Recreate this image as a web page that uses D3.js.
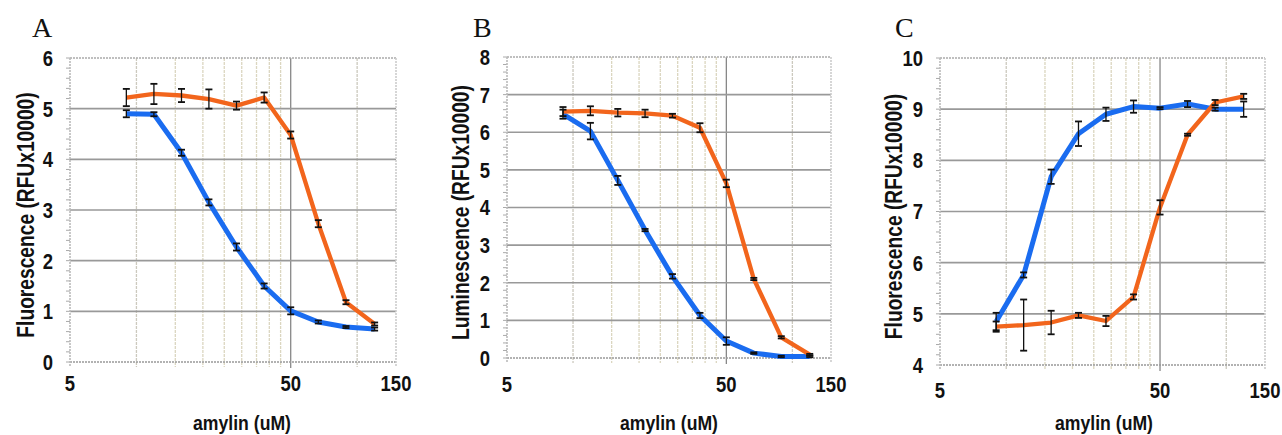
<!DOCTYPE html>
<html>
<head>
<meta charset="utf-8">
<script src="https://cdn.jsdelivr.net/npm/d3@7"></script>
<style>
  body { margin: 0; background: #fff; }
  .tick-label, .axis-title { font-family: "Liberation Sans", Arial, sans-serif; font-weight: bold; fill: #111; }
  .panel-letter { font-family: "Liberation Serif", "Times New Roman", serif; fill: #111; }
</style>
</head>
<body>
<div id="chart"></div>
<script>
var svgWidth = 1282;
var svgHeight = 435;

// amylin concentrations (uM), same for every panel
var amylin = [9, 12, 16, 21.3, 28.4, 37.9, 50, 66.7, 89, 120];

// panel A - Fluorescence
var blueA = [4.9, 4.89, 4.13, 3.15, 2.27, 1.5, 1.01, 0.79, 0.69, 0.65];
var blueAErr = [0.07, 0.04, 0.06, 0.06, 0.07, 0.05, 0.07, 0.03, 0.02, 0.03];
var orangeA = [5.22, 5.29, 5.26, 5.19, 5.06, 5.22, 4.48, 2.73, 1.18, 0.75];
var orangeAErr = [0.17, 0.2, 0.13, 0.19, 0.08, 0.1, 0.07, 0.07, 0.04, 0.03];

// panel B - Luminescence
var blueB = [6.48, 6.03, 4.72, 3.4, 2.17, 1.13, 0.45, 0.13, 0.04, 0.04];
var blueBErr = [0.12, 0.22, 0.12, 0.03, 0.06, 0.07, 0.1, 0.02, 0.02, 0.02];
var orangeB = [6.55, 6.57, 6.52, 6.5, 6.44, 6.12, 4.64, 2.1, 0.55, 0.09];
var orangeBErr = [0.12, 0.12, 0.1, 0.1, 0.05, 0.12, 0.1, 0.03, 0.03, 0.02];

// panel C - Fluorescence
var blueC = [4.85, 5.76, 7.68, 8.52, 8.9, 9.05, 9.02, 9.1, 9.0, 9.0];
var blueCErr = [0.17, 0.05, 0.14, 0.24, 0.13, 0.12, 0.02, 0.06, 0.03, 0.15];
var orangeC = [4.75, 4.78, 4.83, 4.97, 4.86, 5.33, 7.08, 8.5, 9.13, 9.25];
var orangeCErr = [0.1, 0.5, 0.23, 0.05, 0.1, 0.05, 0.14, 0.02, 0.05, 0.05];

// axis ticks
var xTickLabels = [5, 50, 150];
var xGridLight = [10, 15, 20, 25, 30, 35, 40, 45, 100];
var xGridDark = [50];
var yTicksA = [0, 1, 2, 3, 4, 5, 6];
var yTicksB = [0, 1, 2, 3, 4, 5, 6, 7, 8];
var yTicksC = [4, 5, 6, 7, 8, 9, 10];

var blueColor = "#1a6cf0";
var orangeColor = "#f2651c";
var squish = 0.84; // narrow bold look of the original labels

var panels = [
  { letter: "A", title: "Fluorescence  (RFUx10000)", ticks: yTicksA, blue: blueA, blueErr: blueAErr, orange: orangeA, orangeErr: orangeAErr,
    left: 70, right: 396, top: 58, bottom: 362, letterX: 32, titleX: 25, xTitleX: 242, xLabelY: 391 },
  { letter: "B", title: "Luminescence  (RFUx10000)", ticks: yTicksB, blue: blueB, blueErr: blueBErr, orange: orangeB, orangeErr: orangeBErr,
    left: 507, right: 831, top: 57, bottom: 358, letterX: 473, titleX: 460, xTitleX: 669, xLabelY: 392 },
  { letter: "C", title: "Fluorescence  (RFUx10000)", ticks: yTicksC, blue: blueC, blueErr: blueCErr, orange: orangeC, orangeErr: orangeCErr,
    left: 940, right: 1265, top: 58, bottom: 365, letterX: 895, titleX: 893, xTitleX: 1104, xLabelY: 398 }
];

var svg = d3.select("#chart")
  .append("svg")
  .attr("width", svgWidth)
  .attr("height", svgHeight);

panels.forEach(function(p) {
  var g = svg.append("g");
  var yMin = d3.min(p.ticks), yMax = d3.max(p.ticks);

  var x = d3.scaleLog().domain([5, 150]).range([p.left, p.right]);
  var y = d3.scaleLinear().domain([yMin, yMax]).range([p.bottom, p.top]);

  // minor y ticks every 0.2
  var minor = d3.range(yMin, yMax + 0.001, 0.2);
  g.selectAll(".minor-y")
    .data(minor)
    .enter()
    .append("line")
    .attr("x1", p.left - 4)
    .attr("x2", p.left)
    .attr("y1", d => y(d))
    .attr("y2", d => y(d))
    .attr("stroke", "#aaa")
    .attr("stroke-width", 1);

  // vertical gridlines
  g.selectAll(".vgrid")
    .data(xGridLight)
    .enter()
    .append("line")
    .attr("x1", d => x(d))
    .attr("x2", d => x(d))
    .attr("y1", p.top)
    .attr("y2", p.bottom + 5)
    .attr("stroke", d => d === 10 || d === 100 ? "#ccc9be" : "#dbd6c0")
    .attr("stroke-width", 1.3)
    .attr("stroke-dasharray", "3,1");

  g.selectAll(".vgrid-dark")
    .data(xGridDark)
    .enter()
    .append("line")
    .attr("x1", d => x(d))
    .attr("x2", d => x(d))
    .attr("y1", p.top)
    .attr("y2", p.bottom + 6)
    .attr("stroke", "#888")
    .attr("stroke-width", 1.3);

  // horizontal gridlines
  g.selectAll(".hgrid")
    .data(p.ticks.slice(1, -1))
    .enter()
    .append("line")
    .attr("x1", p.left)
    .attr("x2", p.right)
    .attr("y1", d => y(d))
    .attr("y2", d => y(d))
    .attr("stroke", "#999")
    .attr("stroke-width", 1.6);

  // frame: top, bottom, left, right (dotted)
  var frame = [
    [p.left, p.top, p.right, p.top, "#aaa"],
    [p.left, p.bottom, p.right, p.bottom, "#999"],
    [p.left, p.top, p.left, p.bottom + 5, "#bbb"],
    [p.right, p.top, p.right, p.bottom + 5, "#ccc"]
  ];
  g.selectAll(".frame")
    .data(frame)
    .enter()
    .append("line")
    .attr("x1", d => d[0]).attr("y1", d => d[1])
    .attr("x2", d => d[2]).attr("y2", d => d[3])
    .attr("stroke", d => d[4])
    .attr("stroke-width", 1.6)
    .attr("stroke-dasharray", "2,1");

  // y tick labels
  g.selectAll(".ylab")
    .data(p.ticks)
    .enter()
    .append("text")
    .attr("class", "tick-label")
    .attr("transform", d => `translate(${p.left - 17}, ${y(d)}) scale(${squish}, 1)`)
    .attr("dy", "0.36em")
    .attr("text-anchor", "end")
    .style("font-size", "22px")
    .text(d => d);

  // x tick labels
  g.selectAll(".xlab")
    .data(xTickLabels)
    .enter()
    .append("text")
    .attr("class", "tick-label")
    .attr("transform", d => `translate(${x(d)}, ${p.xLabelY}) scale(${squish}, 1)`)
    .attr("text-anchor", "middle")
    .style("font-size", "22px")
    .text(d => d);

  // axis titles
  g.append("text")
    .attr("class", "axis-title")
    .attr("transform", `translate(${p.xTitleX}, 430) scale(${squish}, 1)`)
    .attr("text-anchor", "middle")
    .style("font-size", "21px")
    .text("amylin (uM)");

  g.append("text")
    .attr("class", "axis-title")
    .attr("transform", `translate(${p.titleX}, ${(p.top + p.bottom) / 2 + 5}) rotate(-90) scale(0.8, 1)`)
    .attr("dy", "0.36em")
    .attr("text-anchor", "middle")
    .style("font-size", "24px")
    .text(p.title);

  // panel letter
  g.append("text")
    .attr("class", "panel-letter")
    .attr("x", p.letterX)
    .attr("y", 37)
    .style("font-size", "28px")
    .text(p.letter);

  // lines
  var line = d3.line()
    .x((d, i) => x(amylin[i]))
    .y(d => y(d));

  g.append("path")
    .datum(p.blue)
    .attr("d", line)
    .attr("fill", "none")
    .attr("stroke", blueColor)
    .attr("stroke-width", 5)
    .attr("stroke-linejoin", "round");

  g.append("path")
    .datum(p.orange)
    .attr("d", line)
    .attr("fill", "none")
    .attr("stroke", orangeColor)
    .attr("stroke-width", 4.3)
    .attr("stroke-linejoin", "round");

  // error bars
  var bars = [];
  p.blue.forEach(function(v, i) { bars.push({ x: amylin[i], v: v, e: p.blueErr[i] }); });
  p.orange.forEach(function(v, i) { bars.push({ x: amylin[i], v: v, e: p.orangeErr[i] }); });

  var eb = g.selectAll(".err")
    .data(bars)
    .enter()
    .append("g");

  eb.append("line")
    .attr("x1", d => x(d.x)).attr("x2", d => x(d.x))
    .attr("y1", d => y(d.v - d.e)).attr("y2", d => y(d.v + d.e))
    .attr("stroke", "#111").attr("stroke-width", 1.3);
  eb.append("line")
    .attr("x1", d => x(d.x) - 3.5).attr("x2", d => x(d.x) + 3.5)
    .attr("y1", d => y(d.v + d.e)).attr("y2", d => y(d.v + d.e))
    .attr("stroke", "#111").attr("stroke-width", 1.8);
  eb.append("line")
    .attr("x1", d => x(d.x) - 3.5).attr("x2", d => x(d.x) + 3.5)
    .attr("y1", d => y(d.v - d.e)).attr("y2", d => y(d.v - d.e))
    .attr("stroke", "#111").attr("stroke-width", 1.8);
});
</script>
</body>
</html>
